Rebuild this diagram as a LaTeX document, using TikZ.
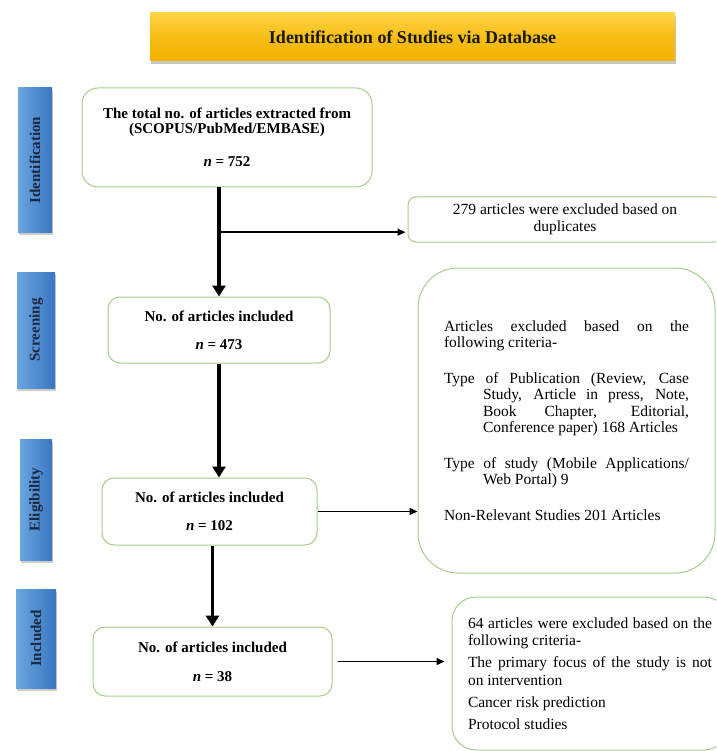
\documentclass[tikz,border=0pt]{standalone}
\usepackage{fontspec}
\setmainfont{Liberation Serif}
\usetikzlibrary{positioning,calc,arrows.meta,shadows}
\definecolor{boxgreen}{HTML}{A6CC8A}
\definecolor{stageL}{HTML}{6AA6E0}
\definecolor{stageR}{HTML}{3A76C0}
\definecolor{stagetext}{HTML}{1B2940}
\definecolor{goldT}{HTML}{FFD447}
\definecolor{goldB}{HTML}{F2B300}
\tikzset{font=\fontsize{15.5}{16.5}\selectfont}
\newcommand{\hangitem}{\hangindent=39pt\hangafter=1\relax}

\begin{document}
\begin{tikzpicture}[x=1pt, y=-1pt,
  banner/.style={top color=goldT, bottom color=goldB, middle color=goldB!70!goldT,
    drop shadow={opacity=0.45, shadow xshift=1pt, shadow yshift=-3pt},
    font=\bfseries\fontsize{18}{20}\selectfont, text=black!90},
  stage/.style={left color=stageL, right color=stageR,
    drop shadow={opacity=0.4, shadow xshift=1pt, shadow yshift=-3pt},
    inner sep=0pt, font=\bfseries\fontsize{15}{17}\selectfont, text=stagetext},
  flowbox/.style={draw=boxgreen, line width=1pt, rounded corners=12pt, align=center,
    inner sep=0pt, font=\bfseries\fontsize{15}{15}\selectfont},
  notebox/.style={draw=boxgreen, line width=1pt, inner sep=0pt, align=justify},
  thickarrow/.style={line width=3.6pt, -{Triangle[length=11pt,width=13pt]}},
  thinarrow/.style={line width=1.4pt, -{Triangle[length=8pt,width=7pt]}}]

  \clip (0,0) rectangle (716,751);

  % heading
  \node[banner, minimum width=525pt, minimum height=48pt] (title) at (412.5,37)
    {Identification of Studies via Database};

  % stages on the left
  \node[stage, minimum width=34pt, minimum height=144pt] (sIdent)  at (35,160)   {\rotatebox{90}{Identification}};
  \node[stage, minimum width=38pt, minimum height=116pt] (sScreen) at (36,330)   {\rotatebox{90}{Screening}};
  \node[stage, minimum width=32pt, minimum height=121pt] (sElig)   at (36,499.5) {\rotatebox{90}{Eligibility}};
  \node[stage, minimum width=40pt, minimum height=99pt]  (sIncl)   at (36,638.5) {\rotatebox{90}{Included}};

  % main flow
  \node[flowbox, minimum width=290pt, minimum height=99pt, rounded corners=16pt] (total) at (227,137.5)
    {The total no. of articles extracted from\\(SCOPUS/PubMed/EMBASE)\\[18pt]\textit{n} = 752};
  \node[flowbox, minimum width=222pt, minimum height=66pt] (incA) at (219,330)
    {No. of articles included\\[13pt]\textit{n} = 473};
  \node[flowbox, minimum width=215pt, minimum height=67pt] (incB) at (209.5,511.5)
    {No. of articles included\\[13pt]\textit{n} = 102};
  \node[flowbox, minimum width=239pt, minimum height=69pt] (incC) at (212.5,661.5)
    {No. of articles included\\[14pt]\textit{n} = 38};

  % exclusions
  \node[notebox, align=center, rounded corners=8pt, minimum width=314pt, minimum height=45pt] (dup) at (565,219.5)
    {279 articles were excluded based on\\duplicates};
  \node[notebox, rounded corners=40pt, text width=245pt, minimum width=297pt, minimum height=305pt] (excl) at (566.5,420.5)
    {\parindent=0pt\parskip=19pt
     Articles excluded based on the\linebreak following criteria-\par
     \hangitem Type of Publication (Review, Case\linebreak Study, Article in press, Note,\linebreak
       Book Chapter, Editorial,\linebreak Conference paper) 168 Articles\par
     \hangitem Type of study (Mobile Applications/\linebreak Web Portal) 9\par
     Non-Relevant Studies 201 Articles\par};
  \node[notebox, rounded corners=24pt, text width=244pt, minimum width=276pt, minimum height=153pt,
        font=\fontsize{15.5}{17.5}\selectfont] (final) at (590,673.5)
    {\parindent=0pt\parskip=4.5pt
     64 articles were excluded based on the\linebreak following criteria-\par
     The primary focus of the study is not\linebreak on intervention\par
     Cancer risk prediction\par
     Protocol studies\par};

  % connectors
  \draw[thickarrow] (total.south -| incA.north) -- (incA.north);
  \coordinate (split) at ($(total.south -| incA.north)!0.41!(incA.north)$);
  \draw[thinarrow] (split) -- ([xshift=-2pt]split -| dup.west);
  \draw[thickarrow] (incA.south) -- (incA.south |- incB.north);
  \draw[thickarrow] (incB.south -| incC.north) -- (incC.north);
  \draw[thinarrow] (incB.east) -- (incB.east -| excl.west);
  \draw[thinarrow] ([xshift=5pt]incC.east) -- ([xshift=-7pt]incC.east -| final.west);
\end{tikzpicture}
\end{document}
